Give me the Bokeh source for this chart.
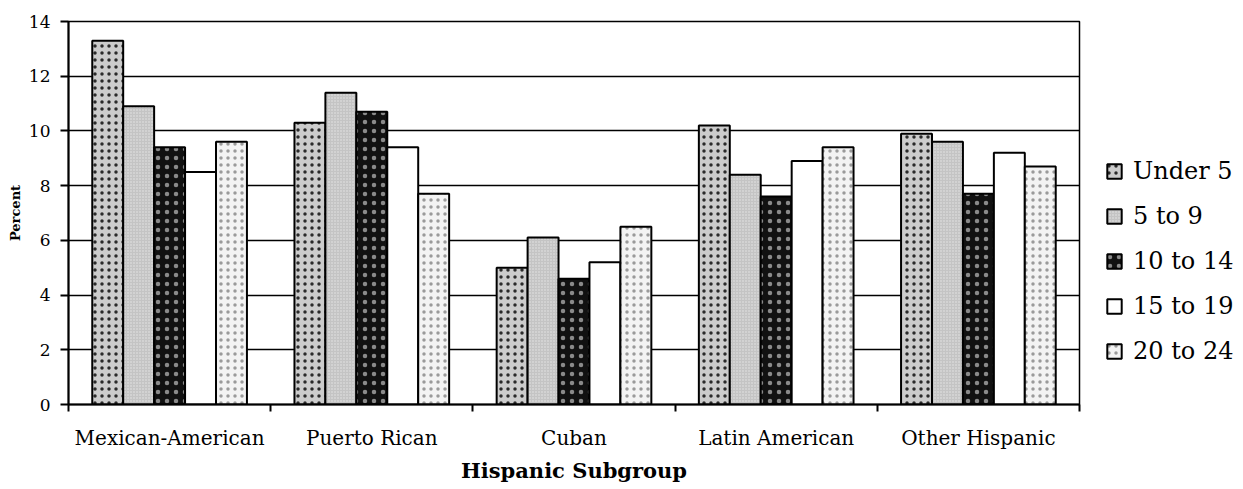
from bokeh.plotting import figure
from bokeh.models import (Range1d, LinearAxis, FixedTicker, Legend, LegendItem, ColumnDataSource)
from bokeh.transform import dodge
from bokeh.embed import file_html
from bokeh.resources import INLINE

# ---- data ----
categories = ["Mexican-American", "Puerto Rican", "Cuban", "Latin American", "Other Hispanic"]
series = ["Under 5", "5 to 9", "10 to 14", "15 to 19", "20 to 24"]
under_5 = [13.3, 10.3, 5.0, 10.2, 9.9]
age_5_9 = [10.9, 11.4, 6.1, 8.4, 9.6]
age_10_14 = [9.4, 10.7, 4.6, 7.6, 7.7]
age_15_19 = [8.5, 9.4, 5.2, 8.9, 9.2]
age_20_24 = [9.6, 7.7, 6.5, 9.4, 8.7]
y_ticks = [0, 2, 4, 6, 8, 10, 12, 14]

values = [under_5, age_5_9, age_10_14, age_15_19, age_20_24]

# category slot centres on a numeric axis (slot i spans i..i+1)
cat_pos = [i + 0.5 for i in range(len(categories))]
edges = list(range(len(categories) + 1))

# ---- styles ----
styles = [
    dict(fill_color="#cccccc", hatch_pattern="dot", hatch_color="#2a2a2a", hatch_scale=7, hatch_weight=1.5),
    dict(fill_color="#c4c4c4", hatch_pattern="dot", hatch_color="#e6e6e6", hatch_scale=3, hatch_weight=0.8),
    dict(fill_color="#111111", hatch_pattern="dot", hatch_color="#8a8a8a", hatch_scale=9, hatch_weight=1.5),
    dict(fill_color="#ffffff"),
    dict(fill_color="#f3f3f3", hatch_pattern="dot", hatch_color="#9a9a9a", hatch_scale=7, hatch_weight=1),
]

FONT = "DejaVu Serif"
bar_w = 0.153

data = {"x": cat_pos}
for s, v in zip(series, values):
    data[s] = v
source = ColumnDataSource(data)

p = figure(width=1240, height=485, frame_width=1011, frame_height=383,
           output_backend="svg", toolbar_location=None,
           x_range=Range1d(0, len(categories)), y_range=Range1d(0, 14),
           x_axis_location=None)
p.min_border_left = 68
p.min_border_top = 21
p.min_border_bottom = 70
p.min_border_right = 161
p.outline_line_color = "black"
p.outline_line_width = 1.5
p.background_fill_color = "white"
p.border_fill_color = "white"
p.xgrid.visible = False

# y axis
ya = p.yaxis[0]
ya.ticker = FixedTicker(ticks=y_ticks)
ya.minor_tick_line_color = None
ya.major_tick_out = 8
ya.major_tick_in = 0
ya.major_tick_line_width = 2
ya.axis_line_width = 2
ya.major_label_text_font = FONT
ya.major_label_text_font_size = "17px"
ya.major_label_text_color = "black"
ya.major_label_standoff = 10
ya.axis_label = "Percent"
ya.axis_label_text_font = FONT
ya.axis_label_text_font_style = "bold"
ya.axis_label_text_font_size = "13px"
ya.axis_label_text_color = "black"
ya.axis_label_standoff = 3

p.ygrid.grid_line_color = "black"
p.ygrid.grid_line_width = 1.6

# x axis: category labels at slot centres, tick marks at slot boundaries
cat_axis = LinearAxis(ticker=FixedTicker(ticks=cat_pos, minor_ticks=edges),
                      major_label_overrides={x: c for x, c in zip(cat_pos, categories)})
cat_axis.axis_line_color = "black"
cat_axis.axis_line_width = 2
cat_axis.major_tick_line_color = None
cat_axis.major_tick_out = 0
cat_axis.major_tick_in = 0
cat_axis.minor_tick_line_color = "black"
cat_axis.minor_tick_line_width = 2
cat_axis.minor_tick_out = 7
cat_axis.minor_tick_in = 0
cat_axis.major_label_text_font = FONT
cat_axis.major_label_text_font_size = "20px"
cat_axis.major_label_text_color = "black"
cat_axis.major_label_standoff = 14
cat_axis.axis_label = "Hispanic Subgroup"
cat_axis.axis_label_text_font = FONT
cat_axis.axis_label_text_font_style = "bold"
cat_axis.axis_label_text_font_size = "21px"
cat_axis.axis_label_text_color = "black"
cat_axis.axis_label_standoff = 5
p.add_layout(cat_axis, "below")

offsets = [(i - 2) * bar_w for i in range(len(series))]
items = []
for s, off, st in zip(series, offsets, styles):
    r = p.vbar(x=dodge("x", off), top=s, width=bar_w, source=source,
               line_color="black", line_width=2, **st)
    items.append(LegendItem(label=s, renderers=[r]))

legend = Legend(items=items, location=(26, 39))
legend.margin = 0
legend.padding = 0
legend.border_line_color = None
legend.background_fill_color = None
legend.background_fill_alpha = 0
legend.label_text_font = FONT
legend.label_text_font_size = "24px"
legend.label_text_color = "black"
legend.label_standoff = 10
legend.glyph_width = 18
legend.glyph_height = 18
legend.spacing = 17
p.add_layout(legend, "right")

open("out.html", "w").write(file_html(p, INLINE))
